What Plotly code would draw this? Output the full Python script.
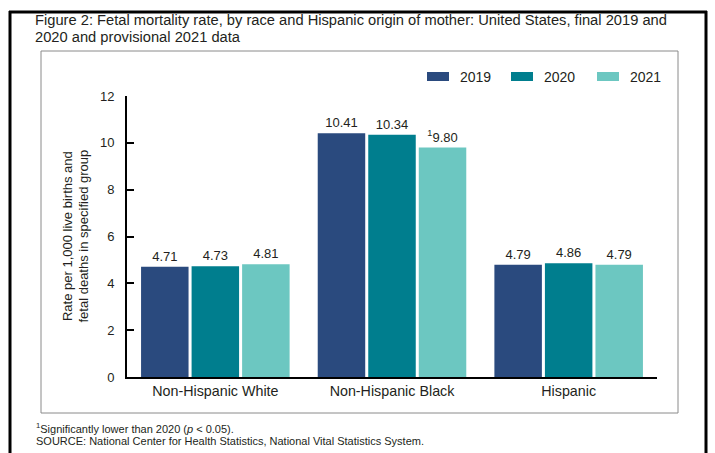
import plotly.graph_objects as go

# ---- data ----
groups = ["Non-Hispanic White", "Non-Hispanic Black", "Hispanic"]
years = ["2019", "2020", "2021"]
rate_2019 = [4.71, 10.41, 4.79]
rate_2020 = [4.73, 10.34, 4.86]
rate_2021 = [4.81, 9.80, 4.79]
# footnote flags (1 = significantly lower than 2020)
flag_2021 = [0, 1, 0]
y_ticks = [0, 2, 4, 6, 8, 10, 12]

colors = ["#2a4a7e", "#007e8e", "#6cc7c1"]
FONT = "Liberation Sans, Arial, sans-serif"
TXT = "#231f20"

W, H = 715, 453
L, R, T, B = 127, 58, 96, 76
PW, PH = W - L - R, H - T - B


def px(x):
    return (x - L) / PW


def py(y):
    return (H - B - y) / PH


series = [rate_2019, rate_2020, rate_2021]
flags = [[0, 0, 0], [0, 0, 0], flag_2021]

fig = go.Figure()
for yr, vals, fl, col in zip(years, series, flags, colors):
    texts = [("<sup>1</sup>" if f else "") + f"{v:.2f}" for v, f in zip(vals, fl)]
    fig.add_trace(go.Bar(
        x=groups, y=vals, name=yr, marker=dict(color=col, line=dict(width=0)),
        text=texts, textposition="outside", cliponaxis=False,
        textfont=dict(family=FONT, size=13, color=TXT),
        showlegend=False,
    ))

fig.update_layout(
    width=W, height=H,
    margin=dict(l=L, r=R, t=T, b=B, pad=0),
    paper_bgcolor="white", plot_bgcolor="white",
    barmode="group", bargap=0.142, bargroupgap=0.06,
    font=dict(family=FONT, color=TXT),
)
fig.update_xaxes(
    range=[-0.5, 2.5], showline=True, linecolor="black", linewidth=2,
    ticks="", showgrid=False, zeroline=False,
    tickfont=dict(family=FONT, size=14.3, color=TXT),
    ticklabelstandoff=0,
)
fig.update_yaxes(
    range=[0, 12], tickvals=y_ticks, showline=True, linecolor="black", linewidth=2,
    ticks="inside", ticklen=7, tickwidth=2, tickcolor="black",
    showgrid=False, zeroline=False,
    tickfont=dict(family=FONT, size=13, color=TXT),
    ticklabelstandoff=8,
)

ann = []
# title
ann.append(dict(x=px(33), y=py(20), xref="paper", yref="paper", xanchor="left", yanchor="middle",
                showarrow=False, align="left",
                text="Figure 2: Fetal mortality rate, by race and Hispanic origin of mother: United States, final 2019 and",
                font=dict(family=FONT, size=14.7, color=TXT)))
ann.append(dict(x=px(33), y=py(37), xref="paper", yref="paper", xanchor="left", yanchor="middle",
                showarrow=False, align="left", text="2020 and provisional 2021 data",
                font=dict(family=FONT, size=14.7, color=TXT)))
# y-axis title
ann.append(dict(x=px(75), y=0.5, xref="paper", yref="paper", xanchor="center", yanchor="middle",
                showarrow=False, textangle=-90,
                text="Rate per 1,000 live births and<br>fetal deaths in specified group",
                font=dict(family=FONT, size=13, color=TXT)))
# footnotes
ann.append(dict(x=px(34), y=py(428), xref="paper", yref="paper", xanchor="left", yanchor="middle",
                showarrow=False, align="left",
                text="<sup>1</sup>Significantly lower than 2020 (<i>p</i> < 0.05).",
                font=dict(family=FONT, size=11, color=TXT)))
ann.append(dict(x=px(34), y=py(441), xref="paper", yref="paper", xanchor="left", yanchor="middle",
                showarrow=False, align="left",
                text="SOURCE: National Center for Health Statistics, National Vital Statistics System.",
                font=dict(family=FONT, size=11, color=TXT)))

shapes = []
# outer black frame (top, left, right)
shapes.append(dict(type="line", xref="paper", yref="paper", x0=px(9), x1=px(707), y0=py(12), y1=py(12),
                   line=dict(color="black", width=3)))
shapes.append(dict(type="line", xref="paper", yref="paper", x0=px(10), x1=px(10), y0=py(11), y1=py(460),
                   line=dict(color="black", width=3)))
shapes.append(dict(type="line", xref="paper", yref="paper", x0=px(706), x1=px(706), y0=py(11), y1=py(460),
                   line=dict(color="black", width=3)))
# inner grey box
shapes.append(dict(type="rect", xref="paper", yref="paper", x0=px(41), x1=px(678), y0=py(51), y1=py(413),
                   line=dict(color="#8a8a8a", width=1), fillcolor="rgba(0,0,0,0)", layer="below"))

# custom legend
leg_x = [427, 511, 597]
for yr, col, lx in zip(years, colors, leg_x):
    shapes.append(dict(type="rect", xref="paper", yref="paper", x0=px(lx), x1=px(lx + 22),
                       y0=py(81), y1=py(72), line=dict(width=0), fillcolor=col))
    ann.append(dict(x=px(lx + 31), y=py(76.5), xref="paper", yref="paper", xanchor="left", yanchor="middle",
                    showarrow=False, text=yr, font=dict(family=FONT, size=14, color=TXT)))

fig.update_layout(annotations=ann, shapes=shapes)
fig.write_html("out.html", config={"displayModeBar": False},
               post_script="document.body.style.margin='0';document.body.style.overflow='hidden';")
